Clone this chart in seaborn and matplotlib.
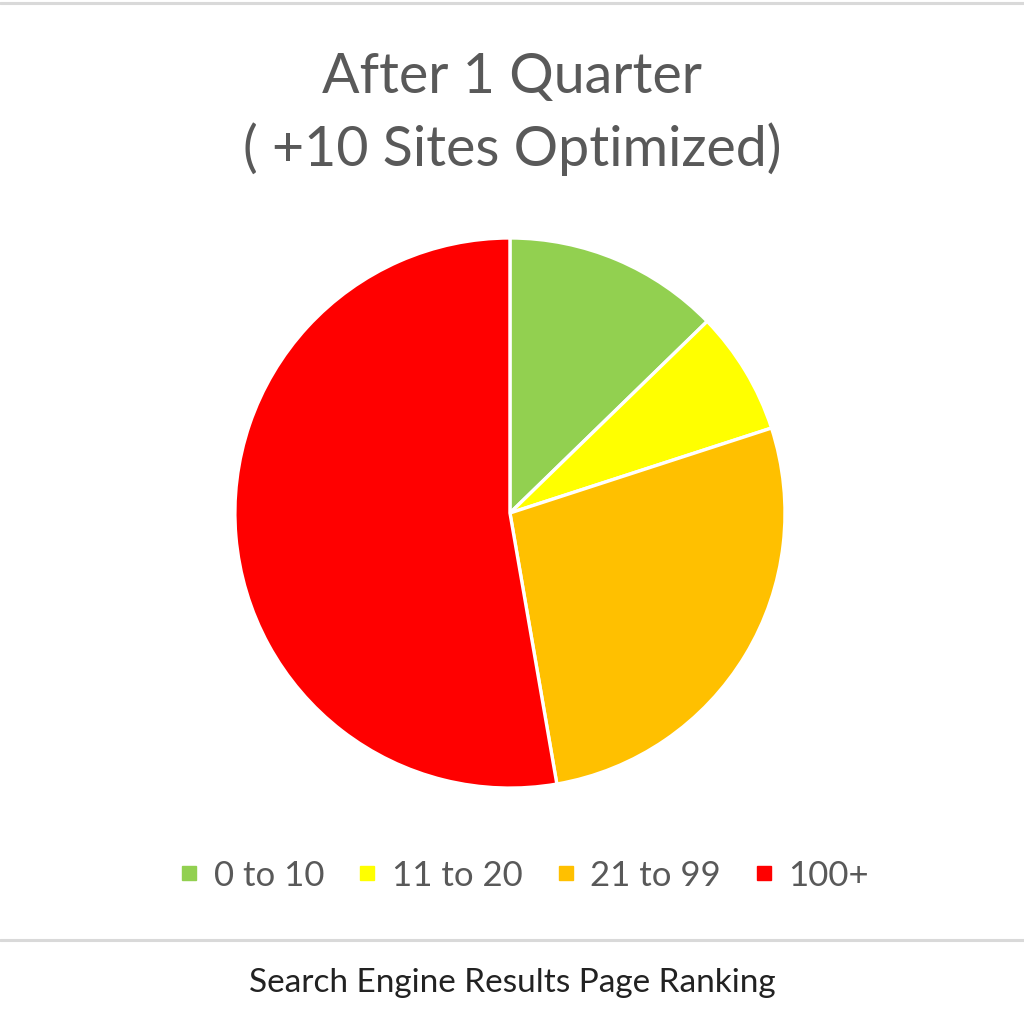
import matplotlib
matplotlib.use("Agg")
import matplotlib.pyplot as plt
from matplotlib.lines import Line2D
import seaborn as sns

# data (site counts per ranking bucket)
categories = ["0 to 10", "11 to 20", "21 to 99", "100+"]
sites = [7, 4, 15, 29]
slice_colors = ["#92D050", "#FFFF00", "#FFC000", "#FF0000"]

title_text = "After 1 Quarter\n( +10 Sites Optimized)"
footer_text = "Search Engine Results Page Ranking"

sns.set_theme(style="white")
plt.rcParams["font.family"] = ["Lato", "DejaVu Sans"]

fig = plt.figure(figsize=(10.24, 10.24), dpi=100)
fig.patch.set_facecolor("white")

# pie axes, centred on the chart area
r = 0.2686
ax = fig.add_axes([0.498 - r, 0.499 - r, 2 * r, 2 * r])
palette = sns.color_palette(slice_colors)
ax.pie(sites, colors=palette, startangle=90, counterclock=False,
       wedgeprops=dict(edgecolor="white", linewidth=2.4))
ax.set_xlim(-1, 1)
ax.set_ylim(-1, 1)
ax.set_aspect("equal")
ax.axis("off")

# title
fig.text(0.5, 1 - 114 / 1024, title_text, ha="center", va="center", fontsize=40,
         color="#595959", linespacing=1.45)

# legend
handles = [Line2D([0], [0], marker="s", linestyle="", markersize=10,
                  markerfacecolor=c, markeredgecolor=c) for c in slice_colors]
fig.legend(handles, categories, loc="center", bbox_to_anchor=(0.51, 0.145),
           ncol=4, frameon=False, fontsize=25, labelcolor="#595959",
           handletextpad=0.3, columnspacing=0.85, handlelength=0.8)

# separator lines and footer
fig.add_artist(Line2D([0, 1], [1 - 3 / 1024, 1 - 3 / 1024], color="#d9d9d9", lw=2.2))
fig.add_artist(Line2D([0, 1], [1 - 940 / 1024, 1 - 940 / 1024], color="#d9d9d9", lw=2.2))
fig.text(0.5, 1 - 983 / 1024, footer_text, ha="center", va="center",
         fontsize=24, color="#222222")

fig.savefig("out.png", dpi=100, facecolor="white")
plt.close(fig)
